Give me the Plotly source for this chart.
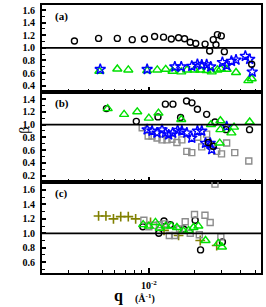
import plotly.graph_objects as go

# ---------------- data (q in 1/Angstrom, beta) ----------------
# panel (a)
a_circ_q = [3.26e-3, 4.69e-3, 6.22e-3, 7.79e-3, 9.36e-3, 1.091e-2, 1.248e-2, 1.403e-2, 1.566e-2, 1.713e-2,
            1.866e-2, 2.028e-2, 2.334e-2, 2.50e-2, 2.64e-2, 2.75e-2, 2.81e-2, 2.98e-2, 3.12e-2, 4.71e-2]
a_circ_b = [1.11, 1.15, 1.15, 1.13, 1.14, 1.18, 1.17, 1.14, 1.16, 1.145,
            1.09, 1.07, 1.06, 0.95, 1.13, 1.05, 1.21, 1.19, 0.94, 0.74]
a_star_q = [4.81e-3, 9.75e-3, 1.48e-2, 1.63e-2, 1.91e-2, 2.08e-2, 2.22e-2, 2.39e-2, 2.54e-2,
            3.03e-2, 3.23e-2, 3.47e-2, 3.72e-2, 4.28e-2, 4.57e-2, 4.75e-2]
a_star_b = [0.66, 0.66, 0.70, 0.70, 0.71, 0.74, 0.73, 0.735, 0.70,
            0.77, 0.72, 0.79, 0.81, 0.87, 0.82, 0.62]
a_tri_q = [4.75e-3, 6.22e-3, 7.34e-3, 9.75e-3, 1.136e-2, 1.29e-2, 1.43e-2, 1.63e-2, 1.78e-2, 1.99e-2,
           2.17e-2, 2.39e-2, 2.58e-2, 2.81e-2, 2.96e-2, 3.23e-2, 3.72e-2, 4.48e-2, 4.71e-2]
a_tri_b = [0.63, 0.665, 0.65, 0.64, 0.65, 0.66, 0.63, 0.62, 0.65, 0.65,
           0.65, 0.64, 0.62, 0.65, 0.665, 0.66, 0.61, 0.48, 0.51]

# panel (b)
b_circ_q = [5.28e-3, 8.28e-3, 1.148e-2, 1.283e-2, 1.438e-2, 1.613e-2, 1.765e-2, 1.915e-2, 2.08e-2,
            2.39e-2, 2.71e-2, 3.20e-2, 4.56e-2, 2.45e-2, 2.64e-2]
b_circ_b = [1.25, 1.05, 1.12, 1.32, 1.32, 1.11, 1.37, 1.34, 1.24,
            1.16, 1.04, 0.92, 0.92, 0.72, 0.66]
b_tri_q = [5.38e-3, 6.89e-3, 8.40e-3, 1.0e-2, 1.156e-2, 1.63e-2, 2.55e-2, 2.94e-2, 2.94e-2,
           3.61e-2, 3.47e-2, 2.91e-2, 4.57e-2]
b_tri_b = [1.25, 1.16, 1.20, 1.10, 1.18, 1.08, 1.00, 1.06, 0.92,
           0.96, 0.87, 0.71, 1.04]
b_star_q = [9.75e-3, 1.05e-2, 1.132e-2, 1.22e-2, 1.283e-2, 1.349e-2, 1.432e-2, 1.543e-2, 1.645e-2,
            1.773e-2, 1.91e-2, 2.08e-2, 2.22e-2, 2.35e-2, 2.52e-2, 2.58e-2, 3.23e-2]
b_star_b = [0.92, 0.90, 0.87, 0.92, 0.87, 0.84, 0.87, 0.91, 0.90,
            0.87, 0.79, 0.90, 0.90, 0.71, 0.71, 0.61, 0.97]
b_sq_q = [9.05e-3, 9.90e-3, 1.05e-2, 1.132e-2, 1.22e-2, 1.315e-2, 1.417e-2, 1.527e-2, 1.645e-2, 1.773e-2,
          1.91e-2, 2.09e-2, 2.22e-2, 2.39e-2, 2.58e-2, 2.78e-2, 2.99e-2, 3.23e-2, 3.65e-2, 4.51e-2]
b_sq_b = [0.95, 0.82, 0.82, 0.79, 0.76, 0.76, 0.77, 0.72, 0.76, 0.58,
          0.56, 0.80, 0.65, 0.85, 0.66, 0.58, 0.54, 0.71, 0.56, 0.43]

# panel (c)
c_cross_q = [4.69e-3, 5.24e-3, 5.87e-3, 6.55e-3, 7.34e-3, 8.20e-3, 1.026e-2, 1.257e-2, 1.566e-2, 2.17e-2, 2.78e-2]
c_cross_b = [1.24, 1.24, 1.20, 1.23, 1.23, 1.20, 1.15, 1.04, 0.97, 0.90, 0.83]
c_circ_q = [9.14e-3, 1.162e-2, 1.257e-2, 1.384e-2, 1.687e-2, 2.01e-2, 2.18e-2, 3.03e-2]
c_circ_b = [1.09, 1.00, 1.17, 1.12, 1.06, 1.18, 0.77, 0.88]
c_sq_q = [9.28e-3, 1.0e-2, 1.078e-2, 1.173e-2, 1.27e-2, 1.362e-2, 1.475e-2, 1.589e-2, 1.73e-2, 1.866e-2,
          1.99e-2, 2.14e-2, 2.33e-2, 2.52e-2, 2.96e-2, 2.71e-2]
c_sq_b = [1.18, 1.09, 1.11, 1.12, 1.13, 0.97, 0.97, 1.06, 1.16, 1.00,
          1.26, 0.98, 1.25, 1.15, 0.95, 1.68]
c_tri_q = [9.18e-3, 1.0e-2, 1.105e-2, 1.178e-2, 1.29e-2, 1.403e-2, 1.527e-2, 1.687e-2, 1.82e-2, 1.96e-2,
           2.11e-2, 2.35e-2, 2.85e-2, 3.01e-2]
c_tri_b = [1.12, 1.10, 1.15, 1.07, 1.10, 1.10, 1.08, 1.03, 1.04, 1.08,
           1.10, 0.90, 0.86, 0.81]

yticks_a = [0.4, 0.6, 0.8, 1.0, 1.2, 1.4, 1.6]
yticks_b = [0.2, 0.4, 0.6, 0.8, 1.0, 1.2, 1.4]
yticks_c = [0.6, 0.8, 1.0, 1.2, 1.4, 1.6]
x_major = [0.01]
x_major_text = ["10<sup>-2</sup>"]
x_minor = [0.002, 0.003, 0.004, 0.005, 0.006, 0.007, 0.008, 0.009, 0.02, 0.03, 0.04, 0.05]

BLACK = "#000000"
BLUE = "#0000ff"
GREEN = "#00e000"
GRAY = "#8c8c8c"
OLIVE = "#808000"
FONT = "Liberation Serif"

fig = go.Figure()


def add(q, b, k, symbol, color, size, lw=1.4):
    sfx = "" if k == 1 else str(k)
    fig.add_trace(go.Scatter(
        x=q, y=b, mode="markers", xaxis="x" + sfx, yaxis="y" + sfx, showlegend=False,
        hoverinfo="skip",
        marker=dict(symbol=symbol, size=size, color=color, line=dict(color=color, width=lw))))


# panel a -> axis 1 (top), b -> 2, c -> 3
add(a_tri_q, a_tri_b, 1, "triangle-up-open", GREEN, 8)
add(a_star_q, a_star_b, 1, "star-open", BLUE, 8)
add(a_circ_q, a_circ_b, 1, "circle-open", BLACK, 6)

add(b_sq_q, b_sq_b, 2, "square-open", GRAY, 6)
add(b_star_q, b_star_b, 2, "star-open", BLUE, 8)
add(b_circ_q, b_circ_b, 2, "circle-open", BLACK, 6)
add(b_tri_q, b_tri_b, 2, "triangle-up-open", GREEN, 8)

add(c_cross_q, c_cross_b, 3, "cross-thin-open", OLIVE, 7, 1.6)
add(c_circ_q, c_circ_b, 3, "circle-open", BLACK, 6)
add(c_sq_q, c_sq_b, 3, "square-open", GRAY, 6)
add(c_tri_q, c_tri_b, 3, "triangle-up-open", GREEN, 8)

H = 268.0
doms = {1: [181 / H, 1.0], 2: [91 / H, 181 / H], 3: [0.0, 91 / H]}
yr = {1: [0.30, 1.68], 2: [0.10, 1.51], 3: [0.45, 1.71]}
yt = {1: yticks_a, 2: yticks_b, 3: yticks_c}

tickfont = dict(family=FONT, size=10, color="black", weight="bold")
layout = dict(
    width=266, height=307, margin=dict(l=42, r=3, t=5, b=34),
    paper_bgcolor="white", plot_bgcolor="white", showlegend=False,
)
for k in (1, 2, 3):
    sfx = "" if k == 1 else str(k)
    layout["xaxis" + sfx] = dict(
        type="log", range=[-2.699, -1.266], anchor="y" + sfx,
        showline=True, mirror=True, linecolor="black", linewidth=2,
        showgrid=False, zeroline=False,
        tickmode="array", tickvals=x_major, ticktext=x_major_text,
        ticks="inside", ticklen=5, tickwidth=1.5, tickcolor="black",
        showticklabels=(k == 3), ticklabelstandoff=2,
        tickfont=dict(family=FONT, size=10, color="black", weight="bold"),
        minor=dict(tickmode="array", tickvals=x_minor, ticks="inside", ticklen=3,
                   tickwidth=1.2, tickcolor="black"),
    )
    layout["yaxis" + sfx] = dict(
        domain=doms[k], range=yr[k], anchor="x" + sfx,
        showline=True, mirror=True, linecolor="black", linewidth=2,
        showgrid=False, zeroline=False,
        tickmode="array", tickvals=yt[k], tickformat=".1f",
        ticks="inside", ticklen=4, tickwidth=1.5, tickcolor="black",
        tickfont=tickfont, ticklabelstandoff=3,
        minor=dict(dtick=0.1, ticks="inside", ticklen=2.5, tickwidth=1.2, tickcolor="black"),
    )
fig.update_layout(**layout)

for k in (1, 2, 3):
    sfx = "" if k == 1 else str(k)
    fig.add_shape(type="line", xref="x%s domain" % sfx, yref="y" + sfx,
                  x0=0, x1=1, y0=1.0, y1=1.0, line=dict(color="black", width=1.8))

lab_font = dict(family=FONT, size=11, color="black", weight="bold")
for k, txt in ((1, "(a)"), (2, "(b)"), (3, "(c)")):
    sfx = "" if k == 1 else str(k)
    fig.add_annotation(text=txt, xref="x%s domain" % sfx, yref="y%s domain" % sfx,
                       x=0.05, y=0.97, xanchor="left", yanchor="top", showarrow=False, font=lab_font)

fig.add_annotation(text="β", xref="paper", yref="paper", x=-0.122, y=0.534, textangle=-90,
                   showarrow=False, font=dict(family=FONT, size=14, color="black"))
fig.add_annotation(text="q", xref="paper", yref="paper", x=0.32, y=-0.086, yanchor="middle",
                   showarrow=False, font=dict(family=FONT, size=16, color="black", weight="bold"))
fig.add_annotation(text="(Å<sup>-1</sup>)", xref="paper", yref="paper", x=0.47, y=-0.095, yanchor="middle",
                   showarrow=False, font=dict(family=FONT, size=10, color="black", weight="bold"))

fig.write_html("out.html", config={"displayModeBar": False},
               post_script="document.body.style.margin='0';document.body.style.padding='0';"
                           "document.documentElement.style.overflow='hidden';")
